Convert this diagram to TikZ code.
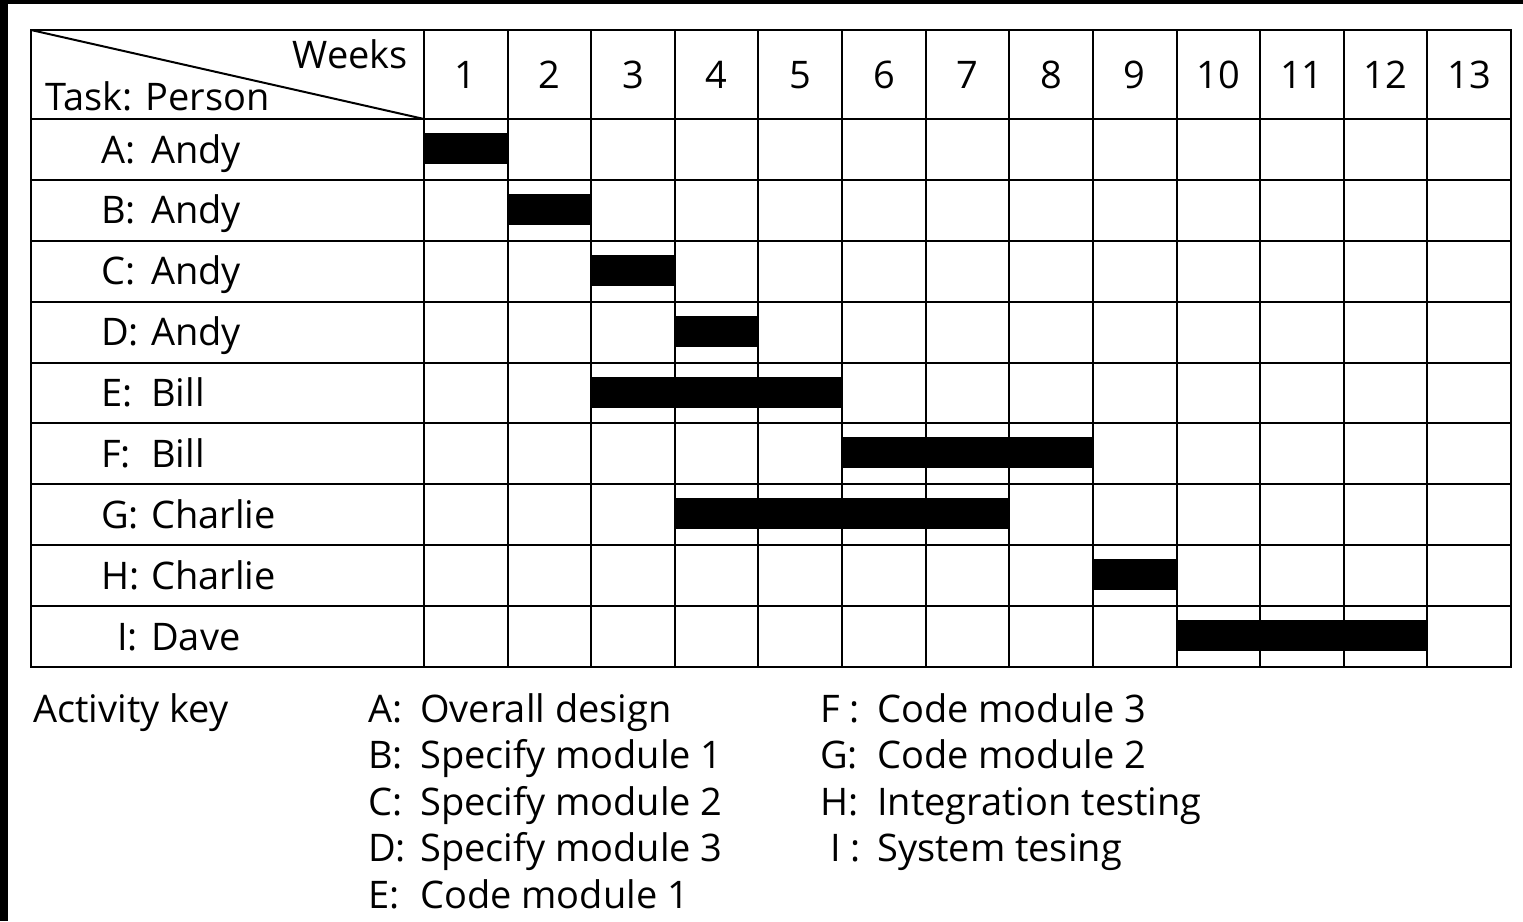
\documentclass[tikz,border=0pt]{standalone}
\usepackage{fontspec}
\setmainfont{Open Sans}
\begin{document}
\begin{tikzpicture}[x=1pt,y=-1pt,
  txt/.style={inner sep=0pt, font=\fontsize{38}{45}\selectfont},
  gridline/.style={line width=2pt, line cap=rect},
  taskbar/.style={fill=black}]
\useasboundingbox (0,0) rectangle (1523,921);
\fill[white] (0,0) rectangle (1523,921);
% dark frame strips along the top and left edges
\fill[black] (0,0) rectangle (1523,4);
\fill[black] (0,0) rectangle (8,921);

\def\cw{83.615}
\def\rh{60.89}

% task bars: row / first week (0-based) / end week
\foreach \r/\s/\e in {0/0/1, 1/1/2, 2/2/3, 3/3/4, 4/2/5, 5/5/8, 6/3/7, 7/8/9, 8/9/12}{
  \fill[taskbar] ({424+\s*\cw},{119+\r*\rh+14}) rectangle ({424+\e*\cw},{119+\r*\rh+45});
}

% table grid
\draw[gridline] (31,30) rectangle (1511,667);
\draw[gridline] (424,30) -- (424,667);
\foreach \i in {1,...,12}{
  \draw[gridline] ({424+\i*\cw},30) -- ({424+\i*\cw},667);
}
\foreach \j in {0,...,8}{
  \draw[gridline] (31,{119+\j*\rh}) -- (1511,{119+\j*\rh});
}
% split header cell
\coordinate (hdTL) at (31,30);
\coordinate (hdBR) at (424,119);
\draw[line width=2pt] (hdTL) -- (hdBR);
\node[txt, anchor=base east] (weeks) at (408,68) {Weeks};
\node[txt, anchor=base west] (taskperson) at (45,110) {Task: Person};

% week numbers
\foreach \i in {1,...,13}{
  \node[txt, anchor=base] (wk\i) at ({424+(\i-0.5)*\cw},88) {\i};
}

% row labels
\foreach \r/\t/\p/\x in {0/A/Andy/101, 1/B/Andy/101, 2/C/Andy/101, 3/D/Andy/101,
                         4/E/Bill/101, 5/F/Bill/101, 6/G/Charlie/101, 7/H/Charlie/101, 8/I/Dave/117}{
  \node[txt, anchor=base west] (lt\t) at (\x,{119+\r*\rh+44}) {\t:};
  \node[txt, anchor=base west] (lp\t) at (151,{119+\r*\rh+44}) {\p};
}

% activity key
\node[txt, anchor=base west] (keytitle) at (33,722) {Activity key};
\foreach \k/\t/\d in {0/A/Overall design, 1/B/Specify module 1, 2/C/Specify module 2,
                      3/D/Specify module 3, 4/E/Code module 1}{
  \node[txt, anchor=base west] (kl\t) at (368,{722+\k*46.6}) {\t:};
  \node[txt, anchor=base west] (kd\t) at (420,{722+\k*46.6}) {\d};
}
\foreach \k/\t/\x/\d in {0/F :/820/Code module 3, 1/G:/820/Code module 2,
                         2/H:/820/Integration testing, 3/I :/830/System tesing}{
  \node[txt, anchor=base west] (kr\k) at (\x,{722+\k*46.6}) {\t};
  \node[txt, anchor=base west] (krd\k) at (877,{722+\k*46.6}) {\d};
}
\end{tikzpicture}
\end{document}
